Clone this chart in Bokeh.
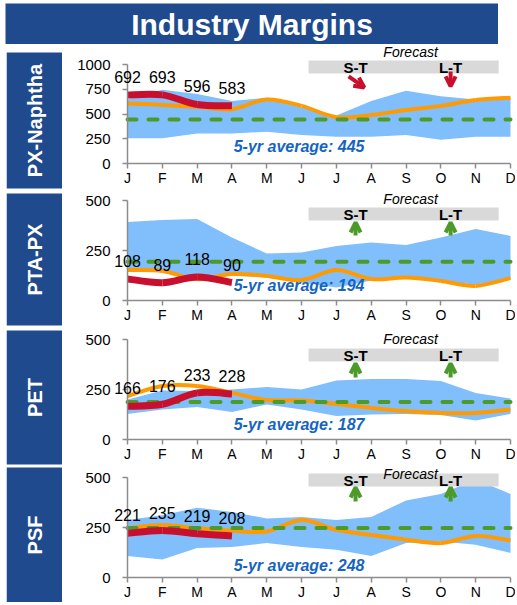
import math
from bokeh.plotting import figure
from bokeh.layouts import column, row
from bokeh.models import (Range1d, FixedTicker, BoxAnnotation, Arrow, OpenHead,
                          Label, LabelSet, ColumnDataSource, Spacer)
from bokeh.core.properties import value
from bokeh.embed import file_html
from bokeh.resources import INLINE

FONT = "Liberation Sans"
TITLE = "Industry Margins"
MONTHS = ["J", "F", "M", "A", "M", "J", "J", "A", "S", "O", "N", "D"]
PANEL_NAMES = ["PX-Naphtha", "PTA-PX", "PET", "PSF"]

# ---- PX-Naphtha ----
px_upper = [647, 745, 703, 631, 664, 566, 484, 631, 736, 680, 647, 664]
px_lower = [255, 255, 304, 304, 320, 288, 271, 271, 288, 239, 271, 271]
px_forecast = [605, 592, 572, 549, 647, 582, 468, 490, 540, 582, 641, 664]
px_actual = [692, 693, 596, 583]
px_avg = 445

# ---- PTA-PX ----
pta_upper = [393, 402, 407, 315, 235, 240, 273, 290, 278, 315, 357, 323]
pta_lower = [150, 145, 110, 125, 115, 90, 65, 100, 110, 95, 80, 105]
pta_forecast = [152, 148, 107, 132, 123, 102, 152, 107, 115, 98, 73, 112]
pta_actual = [108, 89, 118, 90]
pta_avg = 194

# ---- PET ----
pet_upper = [200, 245, 242, 250, 262, 250, 295, 303, 303, 292, 233, 205]
pet_lower = [128, 150, 162, 138, 175, 150, 117, 125, 128, 122, 95, 128]
pet_forecast = [217, 267, 267, 233, 197, 195, 178, 158, 142, 133, 133, 150]
pet_actual = [166, 176, 233, 228]
pet_avg = 187

# ---- PSF ----
psf_upper = [287, 311, 349, 328, 295, 303, 287, 303, 385, 418, 490, 418]
psf_lower = [107, 90, 148, 152, 172, 152, 139, 107, 172, 180, 164, 123]
psf_forecast = [246, 262, 246, 234, 230, 287, 238, 213, 189, 172, 208, 185]
psf_actual = [221, 235, 219, 208]
psf_avg = 248

NAVY = "#1F4A8E"
BAND = "#80BEFC"
ORANGE = "#FF9A00"
RED = "#C8102E"
GREEN = "#4C9A2A"
AVG_BLUE = "#1565C0"
GREY_BOX = "#D9D9D9"
AXIS_GREY = "#8C8C8C"
SEP_GREY = "#A6A6A6"

FC_LEFT, FC_RIGHT = 5.2, 10.66
FC_X, ST_X, LT_X = 8.13, 6.55, 9.28
AVG_TEXT_X = 3.05

# layout (pixels)
MAIN_W = 453
J_OFFSET = 65          # px from left of plot to J
D_OFFSET = 448         # px from left of plot to D
LABEL_W = 56
COL_H = 558
PANEL_H = [144, 134, 134, 136]
ZERO_FROM_TOP = [119, 109, 109, 111]   # px from plot top to value 0
PX_PER_UNIT = [0.099, 0.2, 0.2, 0.2]
SEP_H = [3, 5, 2]
BOX_SPANS = [(8, 144), (149, 281), (286, 420), (423, 558)]

panels = [
    dict(upper=px_upper, lower=px_lower, fc=px_forecast, act=px_actual, avg=px_avg,
         ticks=[0, 250, 500, 750, 1000], box=(909, 1040), fct=1131, avgy=172,
         arrow_color=RED, arrows=[((6.35, 879), (6.80, 768)), ((LT_X, 929), (LT_X, 778))]),
    dict(upper=pta_upper, lower=pta_lower, fc=pta_forecast, act=pta_actual, avg=pta_avg,
         ticks=[0, 250, 500], box=(400, 465), fct=510, avgy=75,
         arrow_color=GREEN, arrows=[((ST_X, 325), (ST_X, 390)), ((LT_X, 325), (LT_X, 390))]),
    dict(upper=pet_upper, lower=pet_lower, fc=pet_forecast, act=pet_actual, avg=pet_avg,
         ticks=[0, 250, 500], box=(390, 455), fct=505, avgy=75,
         arrow_color=GREEN, arrows=[((ST_X, 310), (ST_X, 380)), ((LT_X, 310), (LT_X, 380))]),
    dict(upper=psf_upper, lower=psf_lower, fc=psf_forecast, act=psf_actual, avg=psf_avg,
         ticks=[0, 250, 500], box=(455, 520), fct=520, avgy=60,
         arrow_color=GREEN, arrows=[((ST_X, 380), (ST_X, 450)), ((LT_X, 380), (LT_X, 450))]),
]


def bezier_parts(xs, ys):
    n = len(xs)
    out = dict(x0=[], y0=[], x1=[], y1=[], cx0=[], cy0=[], cx1=[], cy1=[])
    for i in range(n - 1):
        a = max(i - 1, 0)
        b = min(i + 2, n - 1)
        out["x0"].append(xs[i]); out["y0"].append(ys[i])
        out["x1"].append(xs[i + 1]); out["y1"].append(ys[i + 1])
        out["cx0"].append(xs[i] + (xs[i + 1] - xs[a]) / 6.0)
        out["cy0"].append(ys[i] + (ys[i + 1] - ys[a]) / 6.0)
        out["cx1"].append(xs[i + 1] - (xs[b] - xs[i]) / 6.0)
        out["cy1"].append(ys[i + 1] - (ys[b] - ys[i]) / 6.0)
    return out


def smooth_line(p, xs, ys, color, width, cap):
    src = ColumnDataSource(bezier_parts(xs, ys))
    p.bezier(source=src, x0="x0", y0="y0", x1="x1", y1="y1", cx0="cx0", cy0="cy0",
             cx1="cx1", cy1="cy1", line_color=color, line_width=width, line_cap=cap)


def labels_column():
    f = figure(width=LABEL_W, height=COL_H, x_range=Range1d(0, LABEL_W),
               y_range=Range1d(0, COL_H), x_axis_type=None, y_axis_type=None,
               toolbar_location=None, output_backend="svg", min_border=0)
    f.background_fill_color = "white"
    f.border_fill_color = "white"
    f.outline_line_color = None
    tops = [COL_H - s for s, e in BOX_SPANS]
    bottoms = [COL_H - e for s, e in BOX_SPANS]
    f.quad(left=0, right=LABEL_W, top=tops, bottom=bottoms, fill_color=NAVY,
           line_color=None)
    f.text(x=[LABEL_W / 2] * 4, y=[(t + b) / 2 for t, b in zip(tops, bottoms)],
           text=PANEL_NAMES, angle=math.pi / 2, text_align="center",
           text_baseline="middle", text_color="white", text_font=value(FONT),
           text_font_style="bold", text_font_size="20px")
    return f


def main_plot(cfg, idx):
    n = len(MONTHS)
    xs = list(range(n))
    height = PANEL_H[idx]
    ppm = (D_OFFSET - J_OFFSET) / (n - 1)
    x_left = -J_OFFSET / ppm
    x_right = (n - 1) + (MAIN_W - D_OFFSET) / ppm
    ppu = PX_PER_UNIT[idx]
    y_top = ZERO_FROM_TOP[idx] / ppu
    y_bot = -(height - ZERO_FROM_TOP[idx]) / ppu
    p = figure(width=MAIN_W, height=height, x_range=Range1d(x_left, x_right),
               y_range=Range1d(y_bot, y_top), toolbar_location=None, output_backend="svg",
               min_border=0)
    p.outline_line_color = None
    p.xgrid.visible = False
    p.ygrid.visible = False
    p.background_fill_color = "white"
    p.border_fill_color = "white"

    p.varea(x=xs, y1=cfg["lower"], y2=cfg["upper"], fill_color=BAND, fill_alpha=1)
    smooth_line(p, xs, cfg["fc"], ORANGE, 4, "butt")
    p.line(x=[0, n - 1], y=[cfg["avg"], cfg["avg"]], line_color=GREEN, line_width=4,
           line_dash="9 12", line_cap="round")
    ax = xs[:len(cfg["act"])]
    smooth_line(p, ax, cfg["act"], RED, 7, "butt")

    src = ColumnDataSource(dict(x=ax, y=cfg["act"], t=[str(v) for v in cfg["act"]]))
    p.add_layout(LabelSet(x="x", y="y", text="t", source=src, y_offset=18,
                          text_align="center", text_baseline="middle",
                          text_font=value(FONT), text_font_size="16px",
                          text_color="black"))

    lo, hi = cfg["box"]
    p.add_layout(BoxAnnotation(left=FC_LEFT, right=FC_RIGHT, bottom=lo, top=hi,
                               fill_color=GREY_BOX, fill_alpha=1, line_color=None))
    p.add_layout(Label(x=FC_X, y=cfg["fct"], text="Forecast", text_font=FONT,
                       text_font_style="italic", text_font_size="14px", text_color="black",
                       text_align="center", text_baseline="middle"))
    mid = (lo + hi) / 2.0
    for tx, tt in ((ST_X, "S-T"), (LT_X, "L-T")):
        p.add_layout(Label(x=tx, y=mid, text=tt, text_font=FONT, text_font_style="bold",
                           text_font_size="15px", text_color="black", text_align="center",
                           text_baseline="middle"))
    for (x0, y0), (x1, y1) in cfg["arrows"]:
        p.add_layout(Arrow(x_start=x0, y_start=y0, x_end=x1, y_end=y1,
                           line_color=cfg["arrow_color"], line_width=4,
                           end=OpenHead(size=10, line_width=4,
                                        line_color=cfg["arrow_color"])))
    p.add_layout(Label(x=AVG_TEXT_X, y=cfg["avgy"], text=f"5-yr average: {cfg['avg']}",
                       text_font=FONT, text_font_style="bold italic", text_font_size="16px",
                       text_color=AVG_BLUE, text_align="left", text_baseline="middle"))

    p.xaxis.ticker = FixedTicker(ticks=xs)
    p.xaxis.major_label_overrides = {i: m for i, m in enumerate(MONTHS)}
    p.xaxis.bounds = (0, n - 1)
    p.xaxis.fixed_location = 0
    p.yaxis.ticker = FixedTicker(ticks=cfg["ticks"])
    p.yaxis.bounds = (0, cfg["ticks"][-1])
    p.yaxis.fixed_location = 0
    for a in (p.xaxis[0], p.yaxis[0]):
        a.axis_line_color = AXIS_GREY
        a.axis_line_width = 1.5
        a.major_tick_line_color = AXIS_GREY
        a.major_tick_line_width = 1.5
        a.major_tick_in = 0
        a.major_tick_out = 5
        a.minor_tick_line_color = None
        a.major_label_text_font = FONT
        a.major_label_text_color = "black"
    p.xaxis.major_label_text_font_size = "14px"
    p.yaxis.major_label_text_font_size = "15px"
    p.xaxis.major_label_standoff = 1
    p.yaxis.major_label_standoff = 12
    return p


def separator(h):
    s = figure(width=MAIN_W, height=h, x_range=Range1d(0, 1), y_range=Range1d(0, 1),
               x_axis_type=None, y_axis_type=None, toolbar_location=None,
               output_backend="svg", min_border=0)
    s.outline_line_color = None
    s.background_fill_color = "white"
    s.border_fill_color = "white"
    s.line(x=[0, 1], y=[0.5, 0.5], line_color=SEP_GREY, line_width=1.5, line_dash="7 4")
    return s


title = figure(width=493, height=41, x_range=Range1d(0, 1), y_range=Range1d(0, 1),
               x_axis_type=None, y_axis_type=None, toolbar_location=None,
               output_backend="svg", min_border=0)
title.background_fill_color = NAVY
title.border_fill_color = NAVY
title.outline_line_color = None
title.text(x=[0.5], y=[0.5], text=[TITLE], text_align="center", text_baseline="middle",
           text_color="white", text_font=value(FONT), text_font_style="bold",
           text_font_size="30px")

main_items = []
for i, cfg in enumerate(panels):
    if i > 0:
        main_items.append(separator(SEP_H[i - 1]))
    main_items.append(main_plot(cfg, i))

layout = column(
    Spacer(width=10, height=3),
    row(Spacer(width=5, height=41), title),
    row(Spacer(width=6, height=COL_H), labels_column(), column(*main_items)),
)
open("out.html", "w").write(file_html(layout, INLINE))
